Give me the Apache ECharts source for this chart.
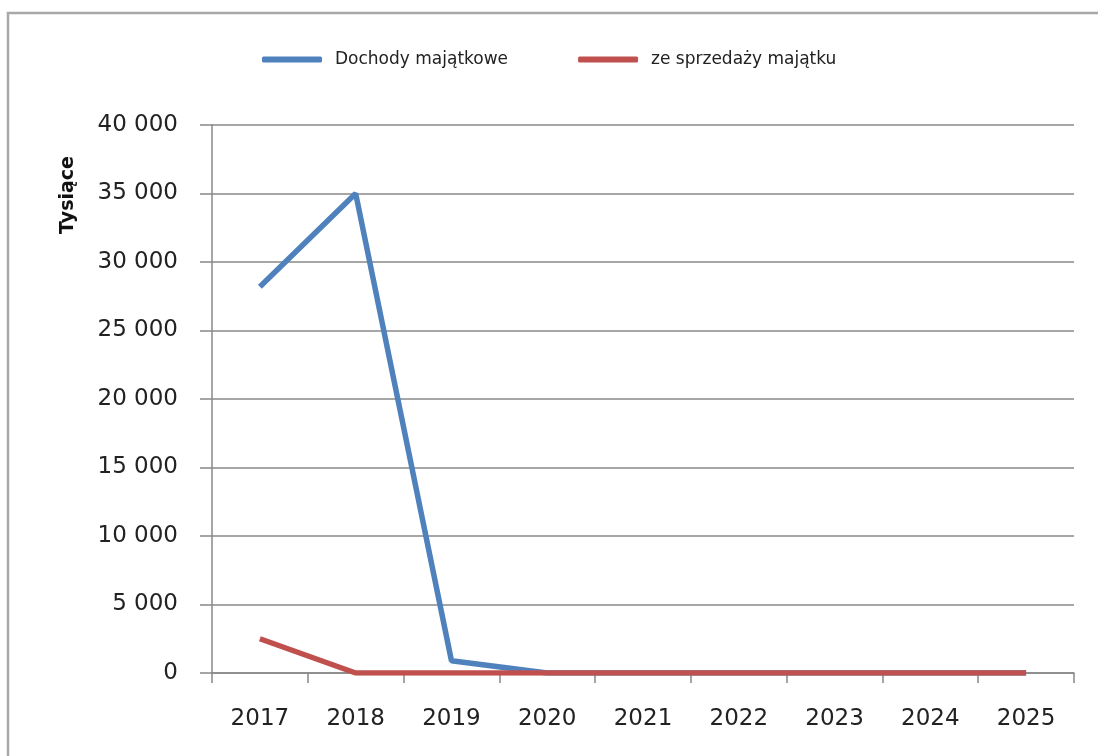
<!DOCTYPE html>
<html>
<head>
<meta charset="utf-8">
<script src="https://cdn.jsdelivr.net/npm/echarts@6/dist/echarts.min.js"></script>
<style>html,body{margin:0;padding:0;background:#fff;}#c{width:1098px;height:756px;}</style>
</head>
<body>
<div id="c"></div>
<script>
const years = ['2017','2018','2019','2020','2021','2022','2023','2024','2025'];
const dochodyMajatkowe = [28200, 35000, 900, 0, 0, 0, 0, 0, 0];
const zeSprzedazyMajatku = [2500, 0, 0, 0, 0, 0, 0, 0, 0];
const seriesNames = ['Dochody majątkowe', 'ze sprzedaży majątku'];
const yAxisTitle = 'Tysiące';

function fmt(v){ return String(v).replace(/\B(?=(\d{3})+(?!\d))/g, ' '); }

const chart = echarts.init(document.getElementById('c'));
chart.setOption({
  animation: false,
  backgroundColor: '#fff',
  textStyle: { fontFamily: 'DejaVu Sans' },
  graphic: [
    { type: 'rect', shape: { x: 8, y: 13, width: 1200, height: 900 },
      style: { fill: 'none', stroke: '#a8a8a8', lineWidth: 2.5 } },
    { type: 'text', x: 68, y: 195, rotation: Math.PI / 2,
      style: { text: yAxisTitle, font: 'bold 19px "DejaVu Sans"', fill: '#111', align: 'center', verticalAlign: 'middle' } }
  ],
  legend: {
    left: 262, top: 51, padding: 0,
    itemWidth: 60, itemHeight: 6, itemGap: 70,
    icon: 'roundRect',
    textStyle: { fontSize: 17, color: '#222', padding: [0,0,0,8] },
    data: seriesNames
  },
  grid: { left: 212, right: 24, top: 125, bottom: 83 },
  xAxis: {
    type: 'category', data: years, boundaryGap: true,
    axisLine: { lineStyle: { color: '#888', width: 1.5 } },
    axisTick: { show: true, length: 10, lineStyle: { color: '#888', width: 1.5 } },
    axisLabel: { fontSize: 23, color: '#222', margin: 35 }
  },
  yAxis: {
    type: 'value', min: 0, max: 40000, interval: 5000,
    axisLine: { show: true, lineStyle: { color: '#888', width: 1.5 } },
    axisTick: { show: true, length: 12, lineStyle: { color: '#888', width: 1.5 } },
    splitLine: { lineStyle: { color: '#888', width: 1.5 } },
    axisLabel: { fontSize: 23, color: '#222', margin: 34, formatter: fmt }
  },
  series: [
    { name: seriesNames[0], type: 'line', data: dochodyMajatkowe, showSymbol: false, symbol: 'none',
      lineStyle: { width: 5.5, color: '#4F81BD' }, itemStyle: { color: '#4F81BD' } },
    { name: seriesNames[1], type: 'line', data: zeSprzedazyMajatku, showSymbol: false, symbol: 'none',
      lineStyle: { width: 5.5, color: '#C0504D' }, itemStyle: { color: '#C0504D' } }
  ]
});
</script>
</body>
</html>
